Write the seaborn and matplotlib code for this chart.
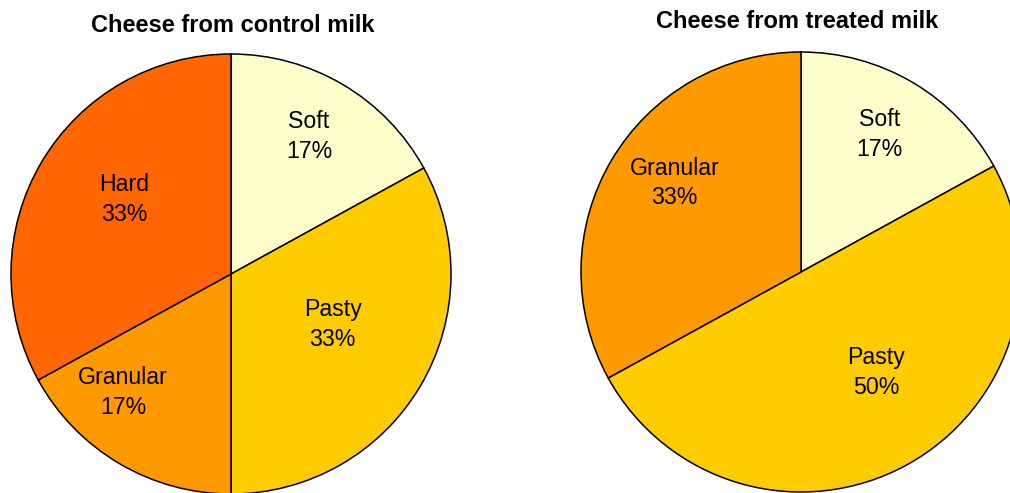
import numpy as np
import seaborn as sns
import matplotlib
matplotlib.use("Agg")
import matplotlib.pyplot as plt

# Data
control_labels = ["Soft", "Pasty", "Granular", "Hard"]
control_values = [17, 33, 17, 33]
treated_labels = ["Soft", "Pasty", "Granular"]
treated_values = [17, 50, 33]

cheese_colors = {"Soft": "#FFFFCC", "Pasty": "#FFCC00",
                 "Granular": "#FF9900", "Hard": "#FF6600"}

# label placement (fraction of radius, angle nudge in degrees), Excel-style best fit
control_label_pos = [(0.73, 1.5), (0.51, 5.6), (0.72, -12.3), (0.60, -5.4)]
treated_label_pos = [(0.73, 1.3), (0.56, 8.6), (0.71, -5.4)]

sns.set_theme(style="white")
plt.rcParams['font.family'] = ['Liberation Sans', 'DejaVu Sans']

W, H = 1010, 493
fig = plt.figure(figsize=(W / 100, H / 100), dpi=100)

R_PX = 220
LIM = 1.05
TEXT_DROP = 0.013  # labels sit a touch lower than the geometric centre


def draw_pie(cx, cy, labels, values, label_pos, title, tx, ty):
    side = 2 * R_PX * LIM
    ax = fig.add_axes([(cx - side / 2) / W, (H - cy - side / 2) / H, side / W, side / H])
    colors = [cheese_colors[l] for l in labels]
    wedges, _ = ax.pie(values, colors=colors, startangle=90, counterclock=False,
                       radius=1, wedgeprops=dict(edgecolor="black", linewidth=1.1))
    total = sum(values)
    for w, lab, v, (frac, nudge) in zip(wedges, labels, values, label_pos):
        mid = np.deg2rad((w.theta1 + w.theta2) / 2 + nudge)
        ax.text(frac * np.cos(mid), frac * np.sin(mid) - TEXT_DROP,
                f"{lab}\n{round(100 * v / total)}%",
                ha="center", va="center", fontsize=16.7, color="black", linespacing=1.38)
    ax.set_xlim(-LIM, LIM)
    ax.set_ylim(-LIM, LIM)
    ax.set_aspect("equal")
    ax.axis("off")
    fig.text(tx / W, 1 - ty / H, title, ha="center", va="center",
             fontsize=17, fontweight="bold", color="black")


draw_pie(231, 274, control_labels, control_values, control_label_pos,
         "Cheese from control milk", 233, 25)
draw_pie(801, 272, treated_labels, treated_values, treated_label_pos,
         "Cheese from treated milk", 797, 22)

fig.savefig("out.png", dpi=100)
